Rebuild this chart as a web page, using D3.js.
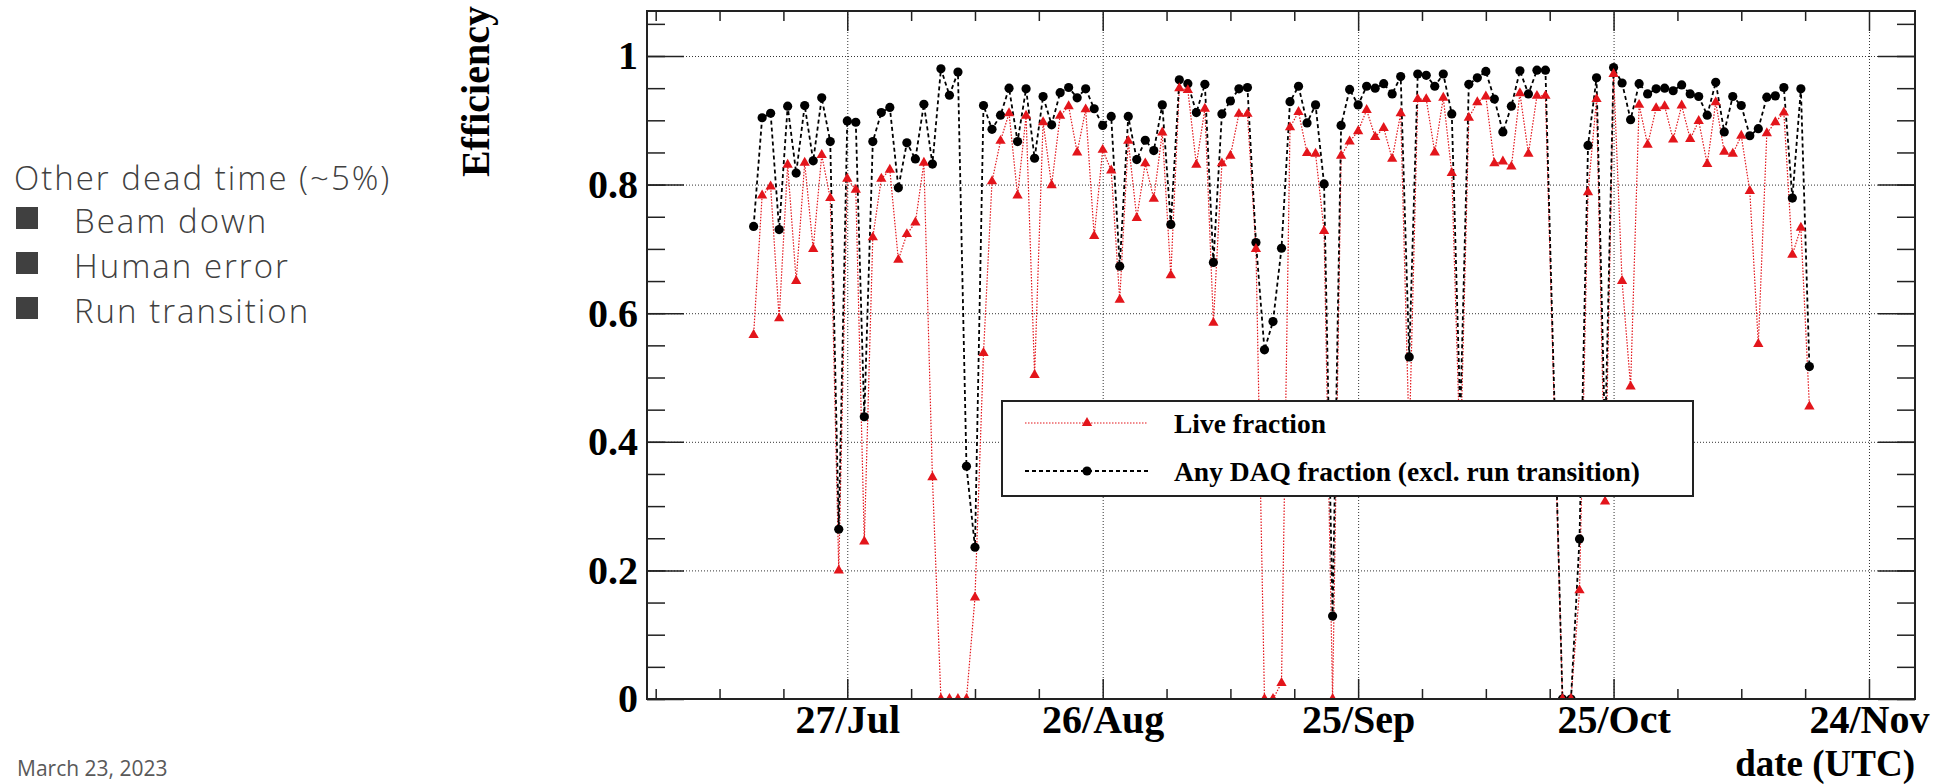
<!DOCTYPE html>
<html>
<head>
<meta charset="utf-8">
<script src="https://cdn.jsdelivr.net/npm/d3@7"></script>
<style>
    body { margin: 0; background: #fff; }
    svg { display: block; }
    .side-text { font-family: "Open Sans", sans-serif; font-weight: 300; fill: #404040; }
    .axis text, .axis-title { font-family: "Liberation Serif", "Times New Roman", serif; font-weight: bold; font-size: 40px; fill: #000; }
    .axis path { display: none; }
    .axis line { stroke: #222; stroke-width: 1.5; }
    .grid path { display: none; }
    .grid line { stroke: #333; stroke-width: 1; stroke-dasharray: 1, 2; }
    .legend text { font-family: "Liberation Serif", "Times New Roman", serif; font-weight: bold; font-size: 27.5px; fill: #000; }
</style>
</head>
<body>
<svg id="efficiency-visualisation" width="1941" height="784"></svg>
<script>

// Daily values, first day 16/Jul, null = no point that day
const startDate = "2022-07-16";

const daqFraction = [
    0.735, 0.904, 0.911, 0.730, 0.922, 0.818, 0.923, 0.837, 0.935, 0.867,
    0.264, 0.899, 0.897, 0.439, 0.867, 0.912, 0.920, 0.795, 0.865, 0.840,
    0.925, 0.832, 0.980, 0.939, 0.975, 0.362, 0.236, 0.923, 0.886, 0.908,
    0.950, 0.867, 0.949, 0.841, 0.937, 0.893, 0.943, 0.951, 0.935, 0.949,
    0.918, 0.892, 0.906, 0.673, 0.906, 0.839, 0.869, 0.853, 0.924, 0.738,
    0.963, 0.957, 0.912, 0.956, 0.679, 0.910, 0.930, 0.949, 0.951, 0.710,
    0.543, 0.587, 0.701, 0.929, 0.953, 0.896, 0.924, 0.801, 0.129, 0.892,
    0.948, 0.924, 0.953, 0.950, 0.957, 0.941, 0.968, 0.532, 0.972, 0.970,
    0.953, 0.972, 0.910, 0.440, 0.956, 0.966, 0.976, 0.933, 0.882, 0.922,
    0.977, 0.941, 0.978, 0.978, null,  0.000, 0.000, 0.249, 0.861, 0.966,
    0.400, 0.982, 0.958, 0.901, 0.957, 0.941, 0.949, 0.950, 0.946, 0.955,
    0.941, 0.937, 0.908, 0.959, 0.882, 0.937, 0.923, 0.876, 0.887, 0.936,
    0.938, 0.951, 0.779, 0.949, 0.517
];

const liveFraction = [
    0.566, 0.783, 0.797, 0.592, 0.831, 0.650, 0.834, 0.700, 0.846, 0.779,
    0.200, 0.809, 0.792, 0.245, 0.718, 0.809, 0.823, 0.683, 0.723, 0.741,
    0.834, 0.345, 0.000, 0.000, 0.000, 0.000, 0.158, 0.538, 0.805, 0.868,
    0.911, 0.783, 0.907, 0.504, 0.897, 0.799, 0.907, 0.922, 0.850, 0.917,
    0.720, 0.854, 0.822, 0.621, 0.868, 0.748, 0.833, 0.778, 0.881, 0.659,
    0.950, 0.947, 0.831, 0.918, 0.585, 0.833, 0.845, 0.910, 0.910, 0.700,
    0.000, 0.000, 0.025, 0.889, 0.913, 0.849, 0.848, 0.728, 0.000, 0.845,
    0.867, 0.883, 0.916, 0.874, 0.888, 0.840, 0.911, 0.400, 0.933, 0.933,
    0.850, 0.935, 0.818, 0.370, 0.904, 0.928, 0.937, 0.833, 0.836, 0.828,
    0.942, 0.848, 0.938, 0.938, null,  0.000, 0.000, 0.169, 0.788, 0.933,
    0.307, 0.972, 0.650, 0.486, 0.924, 0.862, 0.919, 0.922, 0.870, 0.923,
    0.871, 0.899, 0.832, 0.928, 0.851, 0.848, 0.876, 0.790, 0.552, 0.880,
    0.897, 0.912, 0.691, 0.733, 0.455
];

const dateLabels = ["27/Jul", "26/Aug", "25/Sep", "25/Oct", "24/Nov"];
const labelDates = ["2022-07-27", "2022-08-26", "2022-09-25", "2022-10-25", "2022-11-24"];
const yTickValues = [0, 0.2, 0.4, 0.6, 0.8, 1];
const legendLabels = ["Live fraction", "Any DAQ fraction (excl. run transition)"];
const sideTitle = "Other dead time (~5%)";
const sideItems = ["Beam down", "Human error", "Run transition"];

let chart = {
    frame : { left: 647, right: 1915, top: 11, bottom: 699 },
    xAxis : null,
    yAxis : null,
    svg : null,
    red : "#e3151b"
};

chart.svg = d3.select("#efficiency-visualisation");

drawSideText();
createEfficiencyChart();

// Slide text on the left
function drawSideText() {
    let g = chart.svg.append("g").attr("class", "side-text");

    g.append("text")
        .attr("x", 14).attr("y", 190)
        .style("font-size", "33px")
        .style("letter-spacing", "2px")
        .text(sideTitle);

    sideItems.forEach(function (item, i) {
        let base = 233 + i * 45;
        g.append("rect")
            .attr("x", 16).attr("y", base - 26)
            .attr("width", 22).attr("height", 22)
            .attr("fill", "#404040");
        g.append("text")
            .attr("x", 74).attr("y", base)
            .style("font-size", "33px")
            .style("letter-spacing", "2px")
            .text(item);
    });

    chart.svg.append("text")
        .attr("x", 17).attr("y", 776)
        .style("font-family", "'Open Sans', sans-serif")
        .style("font-size", "21px")
        .attr("fill", "#595959")
        .text("March 23, 2023");
}

function createEfficiencyChart() {

    let f = chart.frame;
    let svg = chart.svg;
    let parseDay = d3.utcParse("%Y-%m-%d");
    let day0 = parseDay(startDate);

    chart.xAxis = d3.scaleUtc()
        .domain([new Date("2022-07-03T11:30:00Z"), new Date("2022-11-29T09:40:00Z")])
        .range([f.left, f.right]);

    chart.yAxis = d3.scaleLinear()
        .domain([0, 1.07])
        .range([f.bottom, f.top]);

    let majorDates = labelDates.map(parseDay);
    // minor ticks every 7.5 days, 4 divisions per 30 days
    let minorDates = d3.range(-3, 17)
        .filter(function (k) { return k % 4 !== 0; })
        .map(function (k) { return new Date(majorDates[0].getTime() + k * 7.5 * 864e5); })
        .filter(function (d) { return chart.xAxis(d) > f.left && chart.xAxis(d) < f.right; });
    let yMinor = d3.range(0, 1.051, 0.05);

    // Grid lines
    svg.append("g")
        .attr("class", "grid")
        .attr("transform", "translate(0," + f.bottom + ")")
        .call(d3.axisBottom(chart.xAxis).tickValues(majorDates)
            .tickSize(-(f.bottom - f.top)).tickFormat(""));

    svg.append("g")
        .attr("class", "grid")
        .attr("transform", "translate(" + f.left + ",0)")
        .call(d3.axisLeft(chart.yAxis).tickValues(yTickValues.slice(1))
            .tickSize(-(f.right - f.left)).tickFormat(""));

    // Series
    let toPoints = function (values) {
        return values.map(function (v, i) { return {date: d3.utcDay.offset(day0, i), value: v}; })
            .filter(function (d) { return d.value !== null; });
    };
    let live = toPoints(liveFraction);
    let daq = toPoints(daqFraction);

    svg.append("clipPath").attr("id", "frame-clip")
        .append("rect")
        .attr("x", f.left).attr("y", f.top)
        .attr("width", f.right - f.left).attr("height", f.bottom - f.top);

    let plot = svg.append("g").attr("clip-path", "url(#frame-clip)");

    let line = d3.line()
        .x(function (d) { return chart.xAxis(d.date); })
        .y(function (d) { return chart.yAxis(d.value); });

    plot.append("path")
        .datum(live)
        .attr("d", line)
        .attr("fill", "none")
        .attr("stroke", chart.red)
        .attr("stroke-width", 1.2)
        .attr("stroke-dasharray", "1.5,1.5");

    plot.append("path")
        .datum(daq)
        .attr("d", line)
        .attr("fill", "none")
        .attr("stroke", "#000")
        .attr("stroke-width", 1.8)
        .attr("stroke-dasharray", "4,3");

    plot.append("g")
        .selectAll("circle")
        .data(daq)
        .enter()
        .append("circle")
        .attr("cx", function (d) { return chart.xAxis(d.date); })
        .attr("cy", function (d) { return chart.yAxis(d.value); })
        .attr("r", 4.6)
        .attr("fill", "#000");

    let triangle = d3.symbol().type(d3.symbolTriangle).size(46);

    plot.append("g")
        .selectAll("path")
        .data(live)
        .enter()
        .append("path")
        .attr("d", triangle)
        .attr("transform", function (d) {
            return "translate(" + chart.xAxis(d.date) + "," + chart.yAxis(d.value) + ")";
        })
        .attr("fill", chart.red);

    // Axes, ticks point inwards like ROOT
    let xLabel = function (d, i) { return dateLabels[i]; };

    svg.append("g").attr("class", "axis")
        .attr("transform", "translate(0," + f.bottom + ")")
        .call(d3.axisBottom(chart.xAxis).tickValues(minorDates).tickSize(-10).tickFormat(""));
    svg.append("g").attr("class", "axis")
        .attr("transform", "translate(0," + f.bottom + ")")
        .call(d3.axisBottom(chart.xAxis).tickValues(majorDates).tickSize(-20).tickPadding(6).tickFormat(xLabel));

    svg.append("g").attr("class", "axis")
        .attr("transform", "translate(0," + f.top + ")")
        .call(d3.axisTop(chart.xAxis).tickValues(minorDates).tickSize(-10).tickFormat(""));
    svg.append("g").attr("class", "axis")
        .attr("transform", "translate(0," + f.top + ")")
        .call(d3.axisTop(chart.xAxis).tickValues(majorDates).tickSize(-20).tickFormat(""));

    svg.append("g").attr("class", "axis")
        .attr("transform", "translate(" + f.left + ",0)")
        .call(d3.axisLeft(chart.yAxis).tickValues(yMinor).tickSize(-18).tickFormat(""));
    svg.append("g").attr("class", "axis")
        .attr("transform", "translate(" + f.left + ",0)")
        .call(d3.axisLeft(chart.yAxis).tickValues(yTickValues).tickSize(-37).tickPadding(9)
            .tickFormat(function (d) { return d3.format("~g")(d); }));

    svg.append("g").attr("class", "axis")
        .attr("transform", "translate(" + f.right + ",0)")
        .call(d3.axisRight(chart.yAxis).tickValues(yMinor).tickSize(-18).tickFormat(""));
    svg.append("g").attr("class", "axis")
        .attr("transform", "translate(" + f.right + ",0)")
        .call(d3.axisRight(chart.yAxis).tickValues(yTickValues).tickSize(-37).tickFormat(""));

    // Frame
    svg.append("rect")
        .attr("x", f.left).attr("y", f.top)
        .attr("width", f.right - f.left).attr("height", f.bottom - f.top)
        .attr("fill", "none")
        .attr("stroke", "#222")
        .attr("stroke-width", 2);

    // Axis titles
    svg.append("text")
        .attr("class", "axis-title")
        .attr("text-anchor", "end")
        .attr("transform", "translate(489,6) rotate(-90)")
        .text("Efficiency");

    svg.append("text")
        .attr("class", "axis-title")
        .attr("text-anchor", "end")
        .attr("x", f.right).attr("y", 775.5)
        .style("font-size", "37px")
        .text("date (UTC)");

    drawLegend();
}

// Legend box in the middle of the frame
function drawLegend() {
    let legend = chart.svg.append("g").attr("class", "legend");

    legend.append("rect")
        .attr("x", 1002).attr("y", 401)
        .attr("width", 691).attr("height", 95)
        .attr("fill", "#fff")
        .attr("stroke", "#222")
        .attr("stroke-width", 2);

    let rows = [
        {label: legendLabels[0], y: 423, stroke: chart.red, dash: "1.5,1.5", width: 1.2, marker: "triangle"},
        {label: legendLabels[1], y: 471, stroke: "#000", dash: "4,3", width: 1.8, marker: "circle"}
    ];

    rows.forEach(function (row) {
        legend.append("line")
            .attr("x1", 1025).attr("x2", 1148)
            .attr("y1", row.y).attr("y2", row.y)
            .attr("stroke", row.stroke)
            .attr("stroke-width", row.width)
            .attr("stroke-dasharray", row.dash);

        if (row.marker === "triangle") {
            legend.append("path")
                .attr("d", d3.symbol().type(d3.symbolTriangle).size(46))
                .attr("transform", "translate(1087," + row.y + ")")
                .attr("fill", chart.red);
        } else {
            legend.append("circle")
                .attr("cx", 1087).attr("cy", row.y)
                .attr("r", 4.6)
                .attr("fill", "#000");
        }

        legend.append("text")
            .attr("x", 1174).attr("y", row.y + 10)
            .text(row.label);
    });
}

</script>
</body>
</html>
